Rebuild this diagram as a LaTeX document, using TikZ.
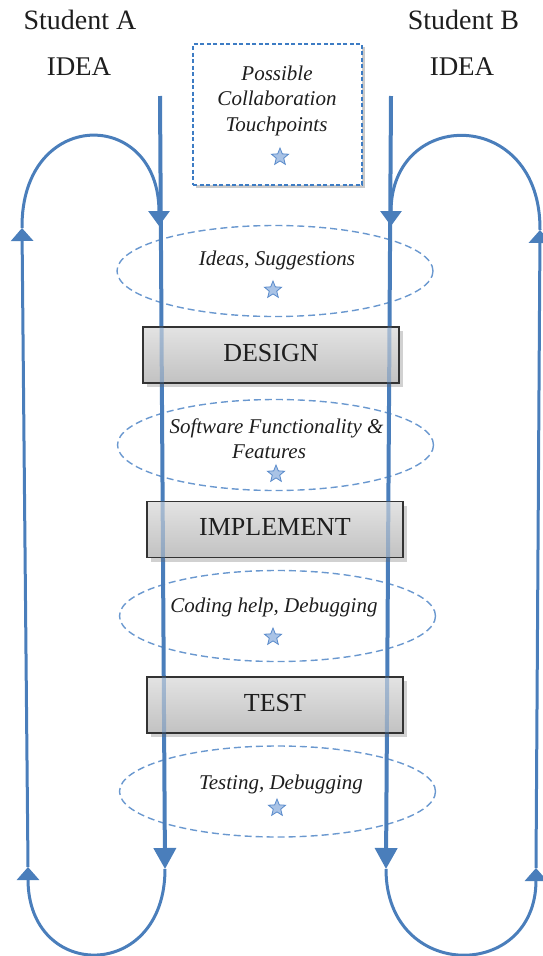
\documentclass[tikz,border=0pt]{standalone}
\usepackage{fontspec}
\setmainfont{Liberation Serif}
\usetikzlibrary{arrows.meta,shapes.geometric,shadows}
\definecolor{flow}{HTML}{4A7EBB}
\definecolor{dashc}{HTML}{6A98CF}
\definecolor{boxdash}{HTML}{3D7CC4}
\definecolor{starfill}{HTML}{A9C3E6}
\definecolor{starline}{HTML}{5A8BCB}
\definecolor{ink}{HTML}{1E1E1E}
\tikzset{
  flowline/.style={draw=flow, line width=4pt},
  loopline/.style={draw=flow, line width=3pt},
  headlab/.style={text=ink, font=\fontsize{28}{32}\selectfont, anchor=base, inner sep=0},
  idealab/.style={text=ink, font=\fontsize{27}{30}\selectfont, anchor=base, inner sep=0},
  itlab/.style={text=ink, font=\fontsize{21}{24}\selectfont\itshape, anchor=base, inner sep=0},
  boxlab/.style={text=ink, font=\fontsize{26}{30}\selectfont, text depth=5pt, inner sep=0},
  touch/.style={ellipse, draw=dashc, dash pattern=on 7pt off 4pt, line width=1.4pt,
    minimum width=316pt, minimum height=91pt, inner sep=0},
  graybox/.style={rectangle, draw=black!80, line width=1.2pt, top color=gray!22, bottom color=gray!48,
    minimum width=256pt, minimum height=56pt, inner sep=0,
    drop shadow={shadow xshift=4pt, shadow yshift=-4pt, opacity=0.3, fill=black!60}},
  starmark/.style={star, star points=5, star point ratio=2.3, minimum size=18pt, inner sep=0,
    fill=starfill, draw=starline, line width=0.8pt},
  notebox/.style={rectangle, draw=boxdash, dash pattern=on 4pt off 2.5pt, line width=1.4pt, fill=white,
    minimum width=169pt, minimum height=141pt, inner sep=0,
    drop shadow={shadow xshift=2.5pt, shadow yshift=-3pt, opacity=0.35, fill=black!60}},
  bigtip/.style={-{Triangle[width=22pt,length=21pt]}},
  smalltip/.style={-{Triangle[width=22pt,length=13pt]}},
  midtip/.style={-{Triangle[width=21pt,length=15pt]}}
}
\begin{document}
\begin{tikzpicture}[x=1pt,y=-1pt]
\useasboundingbox (0,0) rectangle (543,956);

% headings
\node[headlab] (sa) at (80,29.5) {Student A};
\node[idealab] (ia) at (79,75.5) {IDEA};
\node[headlab] (sb) at (463.5,29.5) {Student B};
\node[idealab] (ib) at (462,75.5) {IDEA};

% touchpoints legend box
\node[notebox] (tp) at (277.5,114.5) {};
\node[itlab] (tp1) at (277,80) {Possible};
\node[itlab] (tp2) at (277,105.6) {Collaboration};
\node[itlab] (tp3) at (276.5,131) {Touchpoints};
\node[starmark] (tps) at (280,157) {};

% touchpoint ellipses
\node[touch] (e1) at (275,271) {};
\node[touch] (e2) at (275.5,445) {};
\node[touch] (e3) at (277.5,616) {};
\node[touch] (e4) at (277.5,791.5) {};

% coordinates of the flows
\coordinate (La) at (160,96);
\coordinate (Lb) at (165,869);
\coordinate (Lc) at (28,867);
\coordinate (Ld) at (22,228);
\coordinate (Le) at (159,226);
\coordinate (Ra) at (391,96);
\coordinate (Rb) at (386,869);
\coordinate (Rc) at (536,868);
\coordinate (Rd) at (540,230);
\coordinate (Re) at (391,226);

% student A cycle
\draw[flowline, bigtip] (La) -- (Lb);
\draw[loopline, smalltip] (Lb) .. controls (165,982) and (28,982) .. (Lc);
\draw[loopline, smalltip] (Lc) -- (Ld);
\draw[loopline, midtip] (Ld) .. controls (21,107) and (159,107) .. (Le);

% student B cycle
\draw[flowline, bigtip] (Ra) -- (Rb);
\draw[loopline, smalltip] (Rb) .. controls (386,982) and (536,982) .. (Rc);
\draw[loopline, smalltip] (Rc) -- (Rd);
\draw[loopline, midtip] (Rd) .. controls (541,107) and (391,107) .. (Re);

% phase boxes
\node[graybox] (design) at (271,355) {};
\node[graybox] (impl) at (275,529.5) {};
\node[graybox] (test) at (275,705) {};

% flow lines seen through the boxes
\begin{scope}
  \clip (design.north west) rectangle (design.south east)
        (impl.north west) rectangle (impl.south east)
        (test.north west) rectangle (test.south east);
  \draw[flowline, opacity=0.4] (La) -- (Lb);
  \draw[flowline, opacity=0.4] (Ra) -- (Rb);
\end{scope}
\node[boxlab] (designlab) at (design.center) {DESIGN};
\node[boxlab] (impllab) at (impl.center) {IMPLEMENT};
\node[boxlab] (testlab) at (test.center) {TEST};

% ellipse texts and stars
\node[itlab] (t1) at (277,265) {Ideas, Suggestions};
\node[starmark] (s1) at (273,290) {};
\node[itlab] (t2a) at (276.5,433) {Software Functionality \&};
\node[itlab] (t2b) at (269,458) {Features};
\node[starmark] (s2) at (276,474) {};
\node[itlab] (t3) at (274,612) {Coding help, Debugging};
\node[starmark] (s3) at (273,637) {};
\node[itlab] (t4) at (281,789) {Testing, Debugging};
\node[starmark] (s4) at (277,808) {};
\end{tikzpicture}
\end{document}
